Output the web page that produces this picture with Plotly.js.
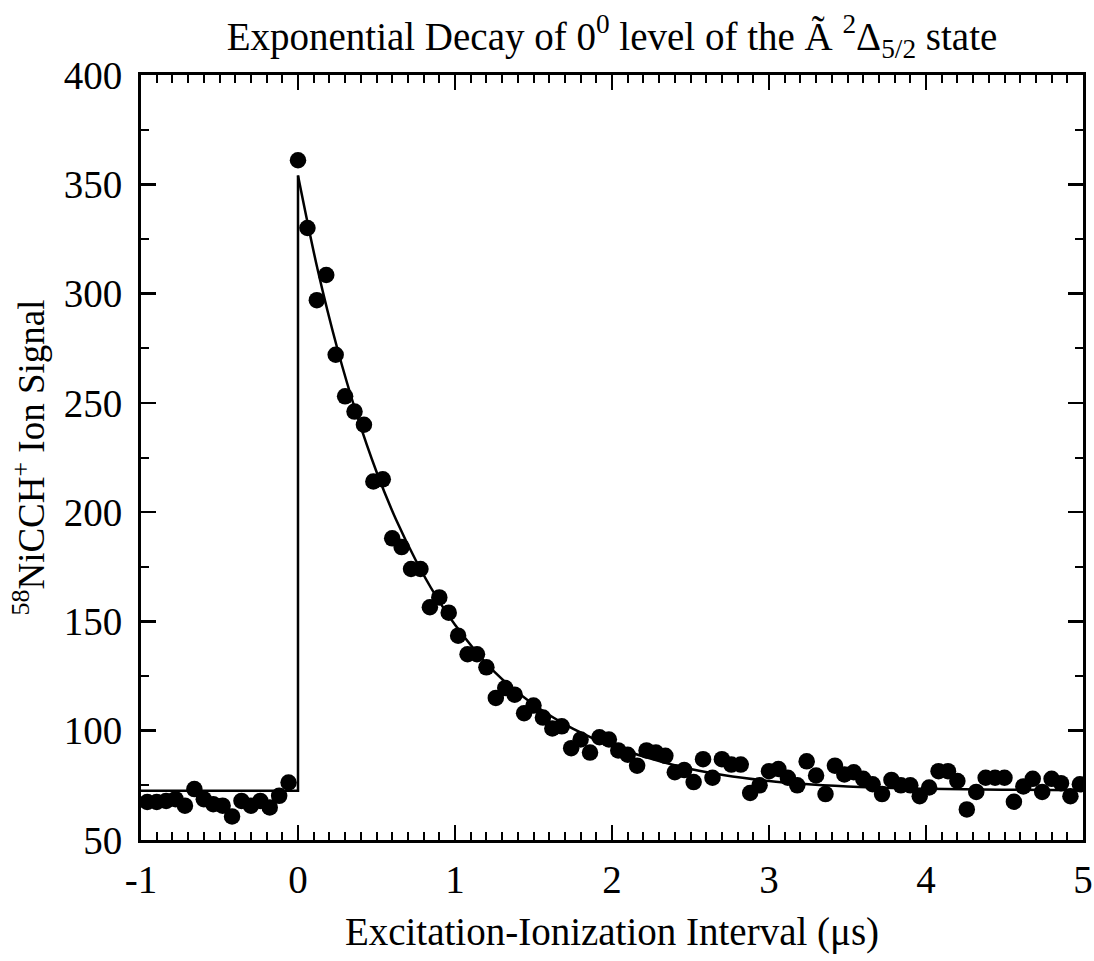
<!DOCTYPE html>
<html>
<head>
<meta charset="utf-8">
<script src="https://cdn.plot.ly/plotly-3.0.1.min.js"></script>
<style>
  html, body { margin: 0; padding: 0; background: #ffffff; }
  #chart { width: 1094px; height: 961px; }
</style>
</head>
<body>
<div id="chart"></div>
<script>
// Measured data points (time in microseconds, ion signal)
const preX = [-0.96, -0.90, -0.84, -0.78, -0.72, -0.66, -0.60, -0.54, -0.48, -0.42, -0.36, -0.30, -0.24, -0.18, -0.12, -0.06];
const preY = [67.4, 67.4, 67.9, 68.7, 65.7, 73.3, 68.7, 66.4, 65.7, 60.8, 67.9, 65.7, 67.9, 64.9, 70.2, 76.3];

const postX = [0.00, 0.06, 0.12, 0.18, 0.24, 0.30, 0.36, 0.42, 0.48, 0.54,
               0.60, 0.66, 0.72, 0.78, 0.84, 0.90, 0.96, 1.02, 1.08, 1.14,
               1.20, 1.26, 1.32, 1.38, 1.44, 1.50, 1.56, 1.62, 1.68, 1.74,
               1.80, 1.86, 1.92, 1.98, 2.04, 2.10, 2.16, 2.22, 2.28, 2.34,
               2.40, 2.46, 2.52, 2.58, 2.64, 2.70, 2.76, 2.82, 2.88, 2.94,
               3.00, 3.06, 3.12, 3.18, 3.24, 3.30, 3.36, 3.42, 3.48, 3.54,
               3.60, 3.66, 3.72, 3.78, 3.84, 3.90, 3.96, 4.02, 4.08, 4.14,
               4.20, 4.26, 4.32, 4.38, 4.44, 4.50, 4.56, 4.62, 4.68, 4.74,
               4.80, 4.86, 4.92, 4.98];
const postY = [361, 330, 297, 308.5, 272, 253, 246, 240, 214, 215,
               188, 184, 174, 174, 156.5, 161, 154, 143.5, 135, 135,
               129, 115, 119.5, 116.5, 108, 111.5, 106, 101, 102, 92,
               96, 90, 97, 96, 91, 89, 84, 91, 90, 88.5,
               81, 82, 76.5, 87, 78.5, 87, 84.5, 84.5, 71.5, 75,
               81.5, 82.5, 78.5, 75, 86, 79.5, 71, 84, 80, 81,
               78, 75.5, 71, 77.5, 75, 75, 70, 74, 81.5, 81.5,
               77, 64, 72, 78.5, 78.5, 78.5, 67.5, 74.5, 78, 72,
               78, 76, 70, 75.5];

// Fit curve
const stepX = [-1, 0, 0];
const stepY = [72.5, 72.5, 354];
const fitX = [0, 0.125, 0.25, 0.375, 0.5, 0.625, 0.75, 0.875, 1, 1.25, 1.5, 1.75, 2, 2.5, 3, 3.5, 4, 4.5, 5];
const fitY = [354, 311, 275, 244.5, 218.5, 196.5, 178, 162, 148.5, 127, 112, 101, 93, 82.5, 77, 74.5, 73.5, 73, 72.8];

// Tick labels
const xTickVals = [-1, 0, 1, 2, 3, 4, 5];
const xTickText = ['-1', '0', '1', '2', '3', '4', '5'];
const yTickVals = [50, 100, 150, 200, 250, 300, 350, 400];
const yTickText = ['50', '100', '150', '200', '250', '300', '350', '400'];

// Text
const titleText = 'Exponential Decay of 0<sup>0</sup> level of the Ã <sup>2</sup>Δ<sub>5/2</sub> state';
const xTitle = 'Excitation-Ionization Interval (μs)';
const yTitle = '<sup>58</sup>NiCCH<sup>+</sup> Ion Signal';

const FONT = 'Liberation Serif, Times New Roman, serif';

const traces = [
  { x: stepX, y: stepY, mode: 'lines', line: { color: '#000', width: 2.5 }, hoverinfo: 'skip', showlegend: false },
  { x: fitX, y: fitY, mode: 'lines', line: { color: '#000', width: 2.5, shape: 'spline', smoothing: 1 }, showlegend: false },
  { x: preX.concat(postX), y: preY.concat(postY), mode: 'markers',
    marker: { color: '#000', size: 16.5, line: { width: 0 } }, showlegend: false }
];

const axisCommon = {
  showline: true, linewidth: 3, linecolor: '#000', mirror: 'allticks',
  ticks: 'inside', ticklen: 15, tickwidth: 2.5, tickcolor: '#000',
  showgrid: false, zeroline: false,
  tickfont: { family: FONT, size: 39, color: '#000' }
};

const layout = {
  width: 1094, height: 961,
  margin: { l: 141, r: 11, t: 75, b: 121 },
  paper_bgcolor: '#fff', plot_bgcolor: '#fff',
  font: { family: FONT, color: '#000', size: 38 },
  title: { text: titleText, font: { family: FONT, size: 39, color: '#000' },
           x: 0.5, xref: 'paper', xanchor: 'center', y: 1 - 36 / 961, yref: 'container', yanchor: 'middle' },
  xaxis: Object.assign({}, axisCommon, {
    range: [-1, 5], tickmode: 'array', tickvals: xTickVals, ticktext: xTickText,
    minor: { dtick: 0.1, tick0: 0, ticks: 'inside', ticklen: 8, tickwidth: 2, tickcolor: '#000', showgrid: false },
    ticklabelstandoff: 3,
    title: { text: xTitle, font: { family: FONT, size: 39, color: '#000' }, standoff: 18 }
  }),
  yaxis: Object.assign({}, axisCommon, {
    range: [50, 400], tickmode: 'array', tickvals: yTickVals, ticktext: yTickText,
    minor: { dtick: 25, tick0: 0, ticks: 'inside', ticklen: 8, tickwidth: 2, tickcolor: '#000', showgrid: false },
    ticklabelstandoff: 8,
    title: { text: yTitle, font: { family: FONT, size: 37, color: '#000' }, standoff: 8 }
  })
};

Plotly.newPlot('chart', traces, layout, { staticPlot: true, displayModeBar: false });
</script>
</body>
</html>
